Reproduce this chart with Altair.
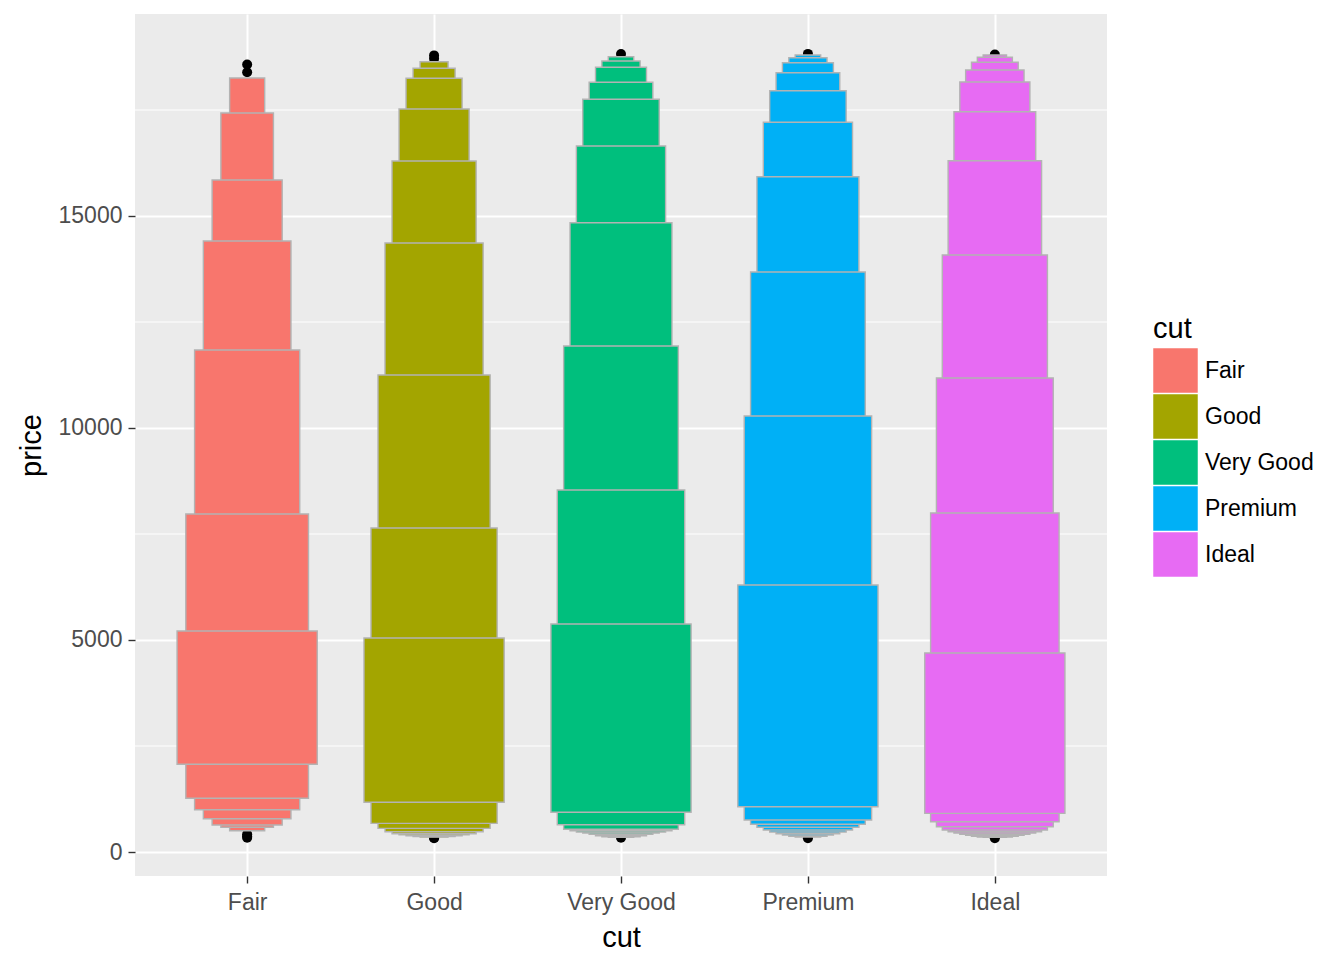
import json
import altair as alt
import pandas as pd

cuts = ["Fair", "Good", "Very Good", "Premium", "Ideal"]
colors = ["#F8766D", "#A3A500", "#00BF7D", "#00B0F6", "#E76BF3"]

# letter-value boxes, innermost (quartiles) first
lower = {
    "Fair": [2070, 1266, 998, 785, 637, 583, 502],
    "Good": [1172, 676, 557, 479, 430, 405, 385, 365, 350],
    "Very Good": [936, 644, 535, 502, 472, 448, 417, 384, 361, 347],
    "Premium": [1069, 755, 653, 583, 519, 472, 432, 401, 370, 354],
    "Ideal": [912, 715, 597, 519, 479, 448, 417, 393, 370, 354, 347],
}
upper = {
    "Fair": [5212, 7972, 11840, 14410, 15849, 17429, 18255],
    "Good": [5047, 7642, 11250, 14363, 16297, 17524, 18250, 18483, 18639],
    "Very Good": [5377, 8538, 11934, 14842, 16651, 17752, 18153, 18507, 18656, 18757],
    "Premium": [6297, 10283, 13679, 15927, 17210, 17955, 18380, 18615, 18733, 18797],
    "Ideal": [4693, 7995, 11179, 14080, 16304, 17460, 18160, 18443, 18625, 18743, 18797],
}
outliers = {
    "Fair": [337, 370, 420, 18574, 18390],
    "Good": [327, 335, 18788, 18707],
    "Very Good": [336, 18818],
    "Premium": [326, 18823],
    "Ideal": [326, 18806],
}
minor_breaks = [2500, 7500, 12500, 17500]

rows = []
for i, c in enumerate(cuts):
    K = len(lower[c])
    for k in range(K):
        rows.append({"cut": c, "idx": i + 1, "k": k, "K": K,
                     "lo": lower[c][k], "hi": upper[c][k]})
boxes = pd.DataFrame(rows).sort_values(["k"], ascending=False)

pts = pd.DataFrame([{"cut": c, "idx": i + 1, "price": v}
                    for i, c in enumerate(cuts) for v in outliers[c]])
minor = pd.DataFrame({"v": minor_breaks})

FONT = "Liberation Sans"
xscale = alt.Scale(domain=[0.4, 5.6], nice=False, zero=False)
yscale = alt.Scale(domain=[-566, 19764], nice=False, zero=False)

xaxis = alt.Axis(values=[1, 2, 3, 4, 5],
                 labelExpr=json.dumps(cuts) + "[datum.value - 1]",
                 title="cut", grid=True)
yaxis = alt.Axis(values=[0, 5000, 10000, 15000], format="d", title="price", grid=True)

minor_layer = alt.Chart(minor).mark_rule(color="white", strokeWidth=1).encode(
    y=alt.Y("v:Q", scale=yscale, axis=yaxis)
)

pt_layer = alt.Chart(pts).mark_circle(color="black", size=100, opacity=1).encode(
    x=alt.X("idx:Q", scale=xscale, axis=xaxis),
    y=alt.Y("price:Q", scale=yscale, axis=yaxis),
)

box_layer = alt.Chart(boxes).transform_calculate(
    hw="0.375 * (1 - datum.k / (datum.K + 1))"
).transform_calculate(
    xl="datum.idx - datum.hw", xr="datum.idx + datum.hw"
).mark_rect(stroke="#B3B3B3", strokeWidth=1.4).encode(
    x=alt.X("xl:Q", scale=xscale, axis=xaxis),
    x2="xr:Q",
    y=alt.Y("lo:Q", scale=yscale, axis=yaxis),
    y2="hi:Q",
    color=alt.Color("cut:N", scale=alt.Scale(domain=cuts, range=colors),
                    legend=alt.Legend(title="cut", orient="none", legendX=1018, legendY=301,
                                      symbolType="square", symbolSize=1980,
                                      symbolStrokeWidth=0, symbolOpacity=1,
                                      labelFontSize=23, labelFont=FONT, labelColor="black",
                                      labelOffset=7, titleFontSize=29, titleFont=FONT,
                                      titleFontWeight="normal", titleColor="black",
                                      titlePadding=4, rowPadding=1)),
    order=alt.Order("k:Q", sort="descending"),
)

chart = alt.layer(minor_layer, pt_layer, box_layer).properties(
    width=972, height=862,
    autosize=alt.AutoSizeParams(type="none"),
    padding={"left": 135, "top": 14, "right": 237, "bottom": 84},
).configure_view(fill="#EBEBEB", stroke=None).configure_axis(
    domain=False, gridColor="white", gridWidth=2,
    tickColor="#333333", tickWidth=1.4, tickSize=7,
    labelColor="#4D4D4D", labelFontSize=23, labelFont=FONT,
    titleFont=FONT, titleFontSize=29, titleFontWeight="normal", titleColor="black",
).configure_axisX(labelPadding=8, titlePadding=9).configure_axisY(
    labelPadding=6, titlePadding=12)

chart.save("out.html", embed_options={"renderer": "svg", "actions": False})
